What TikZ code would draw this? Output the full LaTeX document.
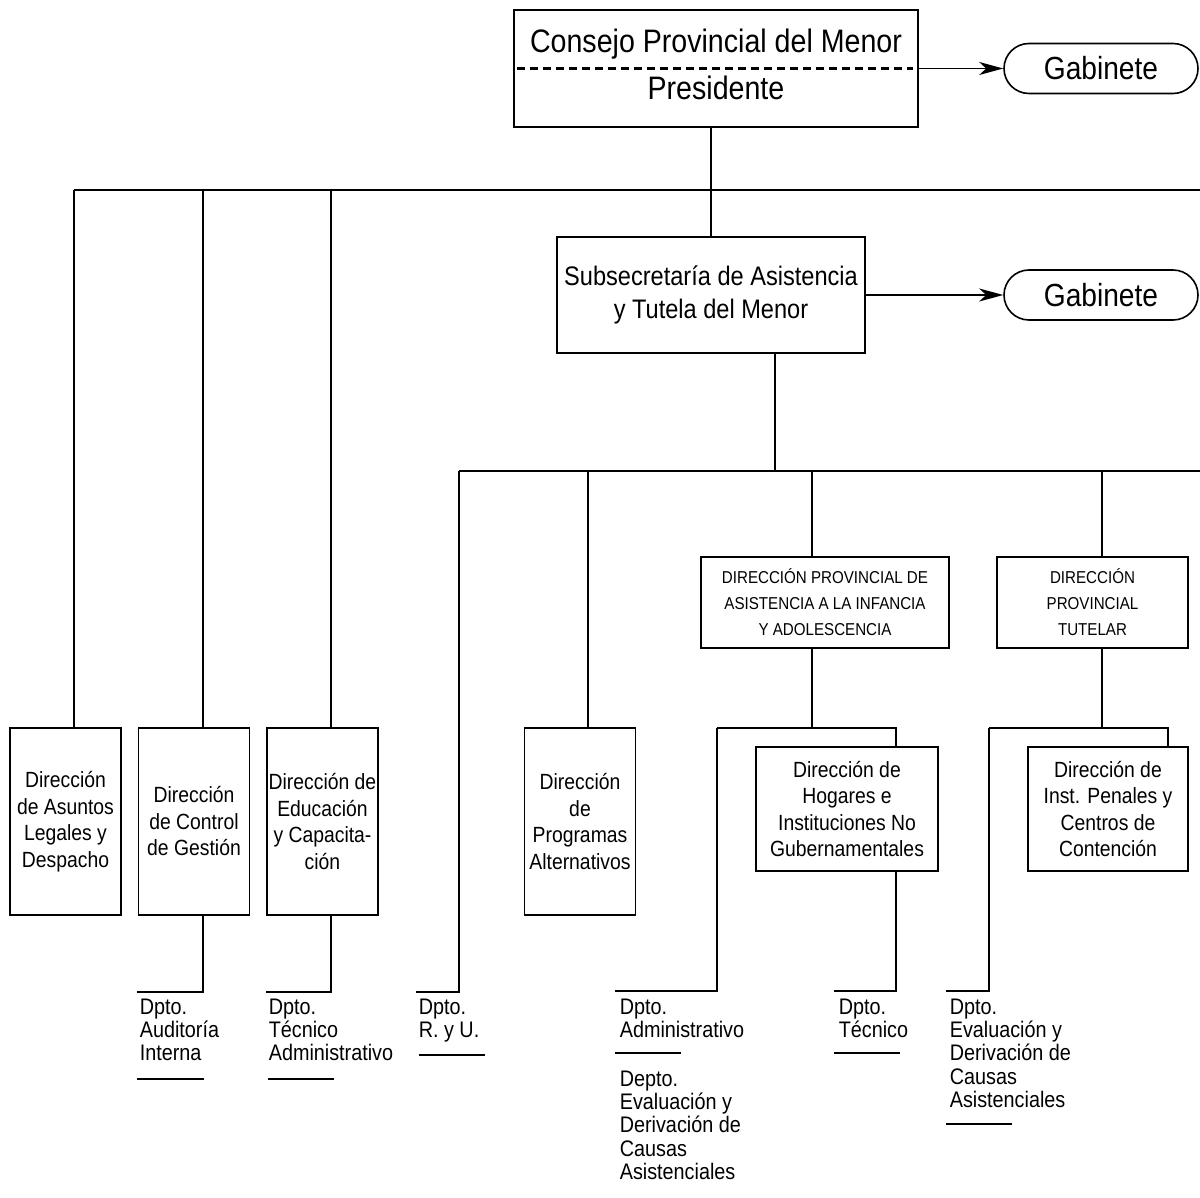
\documentclass[tikz,border=0pt]{standalone}
\usepackage{fontspec}
\setmainfont{Liberation Sans}[FakeStretch=0.88]
\usetikzlibrary{arrows.meta,calc}
\begin{document}
\begin{tikzpicture}[x=1pt,y=-1pt,line width=1.6pt,
  box/.style={draw,line width=1.6pt,inner sep=0pt,align=center},
  lowbox/.style={box,minimum width=111pt,minimum height=187pt,font=\fontsize{22}{26.5}\selectfont},
  capbox/.style={box,minimum height=91pt,font=\fontsize{17.2}{26}\selectfont},
  midbox/.style={box,minimum height=124pt,font=\fontsize{22}{26.5}\selectfont},
  gab/.style={draw,line width=1.6pt,rounded corners=25pt,minimum width=194pt,minimum height=50pt,inner sep=0pt,font=\fontsize{32}{32}\selectfont},
  dpto/.style={anchor=north west,inner sep=0pt,align=left,font=\fontsize{22.5}{23.3}\selectfont},
  arr/.style={-{Stealth[length=24pt,width=13pt,inset=7pt]}}]
\useasboundingbox (0,0) rectangle (1200,1198);

% top
\node[box,minimum width=404pt,minimum height=117pt] (consejo) at (716,68.5) {};
\node[anchor=base,inner sep=0pt,font=\fontsize{32.5}{32.5}\selectfont] (cT) at (716,53) {Consejo Provincial del Menor};
\node[anchor=base,inner sep=0pt,font=\fontsize{32.5}{32.5}\selectfont] (pT) at (716,100) {Presidente};
\draw[dash pattern=on 8pt off 5pt,line width=2.2pt] ([xshift=4pt]consejo.west) -- ([xshift=-6pt]consejo.east);
\node[gab] (gab1) at (1101,68.5) {Gabinete};
\draw[arr] (consejo.east) -- (gab1.west);

\node[box,minimum width=308pt,minimum height=116pt,font=\fontsize{26.8}{33}\selectfont] (subsec) at (711,295) {Subsecretaría de Asistencia\\y Tutela del Menor};
\node[gab] (gab2) at (1101,295) {Gabinete};
\draw[arr] (subsec.east) -- (gab2.west);
\draw (consejo.south -| subsec.north) -- (subsec.north);

% bus 1
\coordinate (b1a) at (74,190);
\coordinate (b1b) at (203,190);
\coordinate (b1c) at (331,190);
\coordinate (b1e) at (1201,190);
\draw (b1a) -- (b1e);

\node[lowbox] (asuntos) at (65.5,821.5) {Dirección\\de Asuntos\\Legales y\\Despacho};
\node[lowbox] (control) at (194,821.5) {Dirección\\de Control\\de Gestión};
\node[lowbox] (educ) at (322.5,821.5) {Dirección de\\Educación\\y Capacita-\\ción};
\node[lowbox] (programas) at (580,821.5) {Dirección\\de\\Programas\\Alternativos};

\draw (b1a) -- (b1a |- asuntos.north);
\draw (b1b) -- (b1b |- control.north);
\draw (b1c) -- (b1c |- educ.north);

% bus 2
\coordinate (s2) at (775,471);
\draw (subsec.south -| s2) -- (s2);
\coordinate (b2a) at (459,471);
\coordinate (b2b) at (588,471);
\coordinate (b2c) at (812,471);
\coordinate (b2d) at (1102,471);
\coordinate (b2e) at (1201,471);
\draw (b2a) -- (b2e);
\draw (b2b) -- (b2b |- programas.north);

\node[capbox,minimum width=248pt] (dpia) at (825,602.5) {DIRECCIÓN PROVINCIAL DE\\ASISTENCIA A LA INFANCIA\\Y ADOLESCENCIA};
\node[capbox,minimum width=191pt] (tutelar) at (1092.5,602.5) {DIRECCIÓN\\PROVINCIAL\\TUTELAR};
\draw (b2c) -- (b2c |- dpia.north);
\draw (b2d) -- (b2d |- tutelar.north);

\node[midbox,minimum width=182pt] (hogares) at (847,809) {Dirección de\\Hogares e\\Instituciones No\\Gubernamentales};
\node[midbox,minimum width=160pt] (penales) at (1108,809) {Dirección de\\Inst. Penales y\\Centros de\\Contención};

% brackets
\coordinate (j1) at (812,728);
\coordinate (j1L) at (717,728);
\coordinate (j1R) at (896,728);
\draw (j1 |- dpia.south) -- (j1);
\draw (j1L) -- (j1R) -- (j1R |- hogares.north);
\coordinate (j2) at (1102,728);
\coordinate (j2L) at (989,728);
\coordinate (j2R) at (1168,728);
\draw (j2 |- tutelar.south) -- (j2);
\draw (j2L) -- (j2R) -- (j2R |- penales.north);

% departments
\node[dpto] (aud) at (139,998) {Dpto.\\Auditoría\\Interna};
\node[dpto] (tecadm) at (268,998) {Dpto.\\Técnico\\Administrativo};
\node[dpto] (ryu) at (418,998) {Dpto.\\R. y U.};
\node[dpto] (adm) at (619,998) {Dpto.\\Administrativo};
\node[dpto] (depto) at (619,1070) {Depto.\\Evaluación y\\Derivación de\\Causas\\Asistenciales};
\node[dpto] (tecn) at (838,998) {Dpto.\\Técnico};
\node[dpto] (eval) at (949,998) {Dpto.\\Evaluación y\\Derivación de\\Causas\\Asistenciales};

\coordinate (audC) at (203,992);
\coordinate (audE) at (137,992);
\draw (audC |- control.south) -- (audC) -- (audE);
\coordinate (tecC) at (331,992);
\coordinate (tecE) at (266,992);
\draw (tecC |- educ.south) -- (tecC) -- (tecE);
\coordinate (ryuC) at (459,992);
\coordinate (ryuE) at (416,992);
\draw (b2a) -- (ryuC) -- (ryuE);
\coordinate (admC) at (717,991);
\coordinate (admE) at (615,991);
\draw (j1L) -- (admC) -- (admE);
\coordinate (tecnC) at (896,991);
\coordinate (tecnE) at (834,991);
\draw (tecnC |- hogares.south) -- (tecnC) -- (tecnE);
\coordinate (evC) at (989,991);
\coordinate (evE) at (946,991);
\draw (j2L) -- (evC) -- (evE);

% underlines
\draw (137,1079) -- (204,1079);
\draw (268,1079) -- (334,1079);
\draw (419,1055) -- (485,1055);
\draw (615,1053) -- (681,1053);
\draw (834,1053) -- (900,1053);
\draw (946,1124) -- (1012,1124);
\end{tikzpicture}
\end{document}
